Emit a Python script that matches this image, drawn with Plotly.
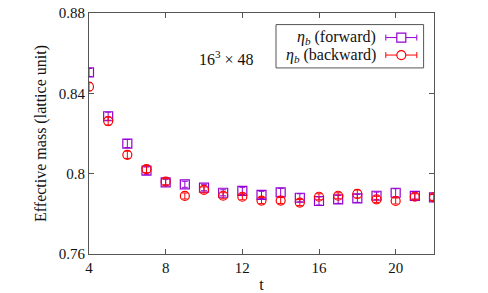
import plotly.graph_objects as go

t = list(range(4, 23))
fwd = [0.8504, 0.8286, 0.8150, 0.8015, 0.7957, 0.7947, 0.7930, 0.7905, 0.7914, 0.7894,
       0.7907, 0.7880, 0.7864, 0.7872, 0.7877, 0.7890, 0.7905, 0.7889, 0.7882]
fwd_err = [0.0020, 0.0020, 0.0020, 0.0018, 0.0015, 0.0015, 0.0015, 0.0015, 0.0018, 0.0018,
           0.0020, 0.0020, 0.0020, 0.0020, 0.0020, 0.0018, 0.0020, 0.0015, 0.0015]
bwd = [0.8433, 0.8262, 0.8094, 0.8023, 0.7960, 0.7889, 0.7919, 0.7890, 0.7885, 0.7866,
       0.7866, 0.7856, 0.7885, 0.7890, 0.7899, 0.7872, 0.7864, 0.7885, 0.7882]
bwd_err = [0.0020, 0.0020, 0.0018, 0.0018, 0.0015, 0.0015, 0.0015, 0.0015, 0.0015, 0.0015,
           0.0015, 0.0015, 0.0015, 0.0015, 0.0020, 0.0015, 0.0015, 0.0015, 0.0015]

labels = ["<i>η</i><sub><i>b</i></sub> (forward)", "<i>η</i><sub><i>b</i></sub> (backward)"]
PURPLE = "#9400d3"
RED = "#ff0000"
FONT = "Liberation Serif, DejaVu Serif, Times New Roman, serif"

fig = go.Figure()
fig.add_trace(go.Scatter(
    x=t, y=fwd, mode="markers", name=labels[0],
    marker=dict(symbol="square-open", size=9, color=PURPLE, line=dict(width=1.2)),
    error_y=dict(type="data", array=fwd_err, color=PURPLE, thickness=1, width=3),
))
fig.add_trace(go.Scatter(
    x=t, y=bwd, mode="markers", name=labels[1],
    marker=dict(symbol="circle-open", size=9, color=RED, line=dict(width=1.2)),
    error_y=dict(type="data", array=bwd_err, color=RED, thickness=1, width=3),
))

# target pixel geometry of the plot frame in the 488x293 window
L, R, T, B = 88.7, 433.7, 12.7, 254.0
W, H = 488, 293

def px(x):
    return (x - L) / (R - L)
def py(y):
    return (B - y) / (B - T)

shapes = [dict(type="rect", xref="paper", yref="paper",
               x0=px(275.7), x1=px(423.3), y0=py(67.7), y1=py(24.3),
               line=dict(color="#555", width=1))]
annotations = []
for i, (lab, col, sym) in enumerate([(labels[0], PURPLE, "sq"), (labels[1], RED, "ci")]):
    yc = 37.3 + i * 17.5
    annotations.append(dict(text=lab, xref="paper", yref="paper", x=px(378), y=py(yc),
                            xanchor="right", yanchor="middle", showarrow=False,
                            font=dict(family=FONT, size=16, color="#111")))
    x0, x1 = 385.5, 416.5
    shapes.append(dict(type="line", xref="paper", yref="paper", x0=px(x0), x1=px(x1),
                       y0=py(yc), y1=py(yc), line=dict(color=col, width=1)))
    for xe in (x0, x1):
        shapes.append(dict(type="line", xref="paper", yref="paper", x0=px(xe), x1=px(xe),
                           y0=py(yc - 3), y1=py(yc + 3), line=dict(color=col, width=1)))
    xm = (x0 + x1) / 2
    shapes.append(dict(type="rect" if sym == "sq" else "circle", xref="paper", yref="paper",
                       x0=px(xm - 4.5), x1=px(xm + 4.5), y0=py(yc + 4.5), y1=py(yc - 4.5),
                       line=dict(color=col, width=1.2), fillcolor="white"))

annotations.append(dict(text="16<sup>3</sup> × 48", xref="paper", yref="paper",
                        x=px(226), y=py(58), xanchor="center", yanchor="middle",
                        showarrow=False, font=dict(family=FONT, size=16, color="#111")))

axis_common = dict(showgrid=False, zeroline=False, showline=True, linecolor="#555",
                   linewidth=1, mirror="ticks", ticks="inside", ticklen=5, tickcolor="#555",
                   automargin=False, ticklabeloverflow="allow",
                   tickfont=dict(family=FONT, size=15, color="#111"))
fig.update_layout(
    width=W, height=H,
    margin=dict(l=L, r=W - R, t=T, b=H - B, pad=0),
    plot_bgcolor="white", paper_bgcolor="white",
    showlegend=False,
    font=dict(family=FONT),
    xaxis=dict(range=[4, 22], tickvals=[4, 8, 12, 16, 20],
               title=dict(text="t", font=dict(family=FONT, size=16, color="#111"), standoff=4),
               **axis_common),
    yaxis=dict(range=[0.76, 0.88], tickvals=[0.76, 0.80, 0.84, 0.88],
               ticktext=["0.76", "0.8", "0.84", "0.88"],
               title=dict(text="Effective mass (lattice unit)",
                          font=dict(family=FONT, size=16, color="#111"), standoff=8),
               **axis_common),
    shapes=shapes, annotations=annotations,
)
fig.write_html("out.html", config={"displayModeBar": False},
               post_script="document.body.style.margin='0';")
